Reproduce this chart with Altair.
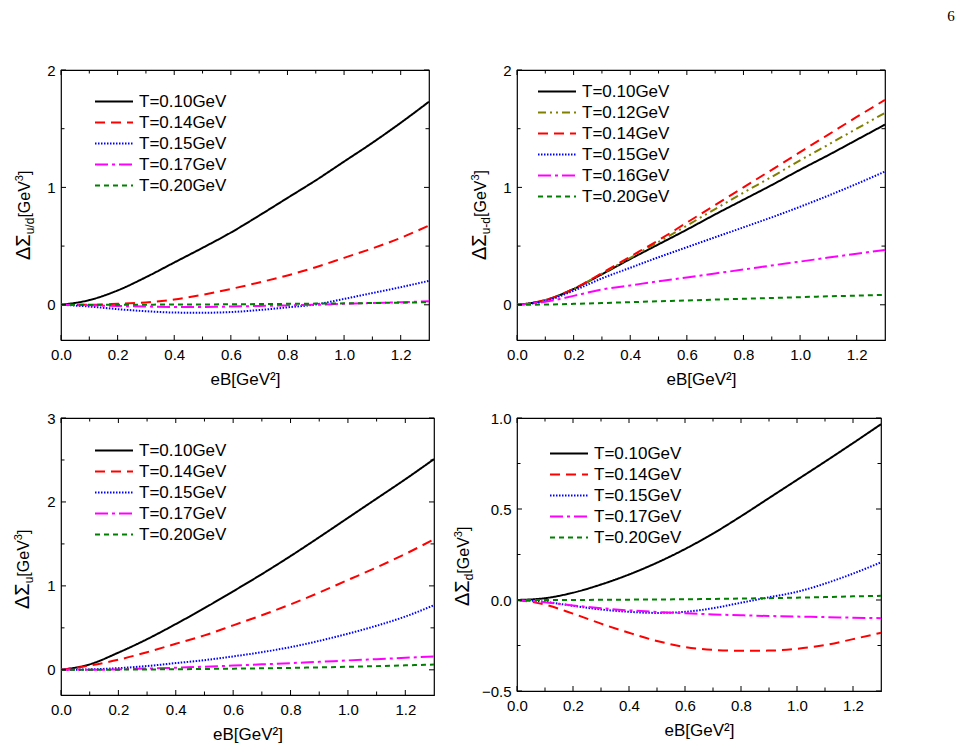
import altair as alt
import pandas as pd

FONT = "Liberation Sans"

# ---------------- data ----------------
eB = [0.0, 0.1, 0.2, 0.3, 0.4, 0.5, 0.6, 0.7, 0.8, 0.9, 1.0, 1.1, 1.2, 1.3]

# panel (a): Delta Sigma_{u/d}
a_T010 = [0, 0.04, 0.122, 0.235, 0.36, 0.485, 0.615, 0.76, 0.91, 1.06, 1.22, 1.38, 1.55, 1.73]
a_T014 = [0, 0.0, 0.008, 0.02, 0.045, 0.085, 0.135, 0.19, 0.25, 0.32, 0.4, 0.48, 0.57, 0.675]
a_T015 = [0, -0.015, -0.037, -0.055, -0.066, -0.068, -0.062, -0.045, -0.022, 0.003, 0.05, 0.1, 0.15, 0.204]
a_T017 = [0, -0.005, -0.01, -0.015, -0.018, -0.018, -0.015, -0.01, -0.005, 0.0, 0.008, 0.015, 0.022, 0.03]
a_T020 = [0, 0.0, 0.0, 0.001, 0.002, 0.003, 0.004, 0.006, 0.008, 0.01, 0.012, 0.015, 0.018, 0.022]

# panel (b): Delta Sigma_{u-d}
b_T010 = [0, 0.04, 0.135, 0.26, 0.39, 0.515, 0.64, 0.77, 0.895, 1.02, 1.15, 1.275, 1.405, 1.535]
b_T012 = [0, 0.04, 0.135, 0.265, 0.40, 0.535, 0.675, 0.815, 0.955, 1.09, 1.23, 1.365, 1.5, 1.635]
b_T014 = [0, 0.04, 0.135, 0.27, 0.41, 0.55, 0.70, 0.85, 1.0, 1.15, 1.3, 1.45, 1.6, 1.745]
b_T015 = [0, 0.032, 0.12, 0.225, 0.315, 0.405, 0.49, 0.575, 0.66, 0.745, 0.835, 0.93, 1.03, 1.135]
b_T016 = [0, 0.025, 0.076, 0.13, 0.165, 0.2, 0.233, 0.267, 0.3, 0.335, 0.368, 0.402, 0.435, 0.467]
b_T020 = [0, 0.002, 0.008, 0.015, 0.022, 0.03, 0.037, 0.044, 0.051, 0.058, 0.065, 0.072, 0.078, 0.085]

# panel (c): Delta Sigma_u
c_T010 = [0, 0.065, 0.205, 0.365, 0.545, 0.735, 0.935, 1.14, 1.355, 1.58, 1.81, 2.04, 2.27, 2.51]
c_T014 = [0, 0.05, 0.12, 0.21, 0.31, 0.41, 0.53, 0.65, 0.78, 0.92, 1.07, 1.22, 1.38, 1.555]
c_T015 = [0, 0.005, 0.02, 0.045, 0.08, 0.115, 0.16, 0.21, 0.27, 0.345, 0.43, 0.525, 0.635, 0.77]
c_T017 = [0, 0.0, 0.005, 0.015, 0.025, 0.037, 0.05, 0.065, 0.08, 0.095, 0.112, 0.127, 0.143, 0.16]
c_T020 = [0, 0.0, 0.002, 0.004, 0.007, 0.01, 0.014, 0.018, 0.023, 0.029, 0.036, 0.044, 0.053, 0.063]

# panel (d): Delta Sigma_d
d_T010 = [0, 0.01, 0.04, 0.085, 0.14, 0.205, 0.28, 0.365, 0.46, 0.56, 0.66, 0.76, 0.862, 0.966]
d_T014 = [0, -0.025, -0.075, -0.13, -0.18, -0.225, -0.258, -0.274, -0.279, -0.278, -0.268, -0.248, -0.215, -0.18]
d_T015 = [0, -0.01, -0.032, -0.052, -0.065, -0.071, -0.065, -0.045, -0.015, 0.015, 0.045, 0.09, 0.145, 0.207]
d_T017 = [0, -0.012, -0.03, -0.045, -0.057, -0.066, -0.073, -0.079, -0.084, -0.088, -0.091, -0.094, -0.097, -0.1]
d_T020 = [0, 0.0, 0.0, 0.001, 0.002, 0.003, 0.004, 0.006, 0.008, 0.01, 0.013, 0.016, 0.02, 0.023]

labels5 = ["T=0.10GeV", "T=0.14GeV", "T=0.15GeV", "T=0.17GeV", "T=0.20GeV"]
labels6 = ["T=0.10GeV", "T=0.12GeV", "T=0.14GeV", "T=0.15GeV", "T=0.16GeV", "T=0.20GeV"]

x_major = [0.0, 0.2, 0.4, 0.6, 0.8, 1.0, 1.2]
x_minor = [0.1, 0.3, 0.5, 0.7, 0.9, 1.1]

# ---------------- styles ----------------
STYLE = {
    "T=0.10GeV": ("#000000", [1, 0]),
    "T=0.12GeV": ("#808000", [8, 4, 2, 4, 2, 4]),
    "T=0.14GeV": ("#FF0000", [10, 6]),
    "T=0.15GeV": ("#0000FF", [1.5, 1.5]),
    "T=0.16GeV": ("#FF00FF", [13, 4, 3, 4]),
    "T=0.17GeV": ("#FF00FF", [13, 4, 3, 4]),
    "T=0.20GeV": ("#008000", [5, 4]),
}

CW = {"Δ": 0.667, "Σ": 0.618, "u": 0.556, "/": 0.278, "d": 0.556, "-": 0.333,
      "[": 0.278, "G": 0.778, "e": 0.556, "V": 0.667, "]": 0.278, "3": 0.556}


def tw(s, size):
    return sum(CW.get(ch, 0.556) for ch in s) * size


ONE = pd.DataFrame({"k": [0]})


def ytitle(sub, xb, y0):
    pieces = [("ΔΣ", 20, 0), (sub, 12, 4), ("[GeV", 16, 0), ("3", 11, -7), ("]", 16, 0)]
    out = []
    off = 0.0
    for txt, size, shift in pieces:
        out.append(
            alt.Chart(ONE).mark_text(text=txt, angle=270, align="left", baseline="alphabetic",
                                     fontSize=size, font=FONT, color="black")
            .encode(x=alt.value(xb + shift), y=alt.value(y0 - off))
        )
        off += tw(txt, size)
    return out


def panel(series, labels, ydom, ymaj, ymin, yfmt, sub, W, H, lx, ly, tx, ty, extra=None):
    rows = []
    for lab, vals in zip(labels, series):
        for x, v in zip(eB, vals):
            rows.append({"eB": x, "v": v, "T": lab})
    df = pd.DataFrame(rows)
    xs = alt.Scale(domain=[0, 1.3], nice=False, zero=False)
    ys = alt.Scale(domain=ydom, nice=False, zero=False)
    leg = alt.Legend(orient="none", legendX=lx, legendY=ly, symbolType="stroke",
                     symbolSize=1444, symbolStrokeWidth=2, labelFontSize=17, labelFont=FONT,
                     labelColor="black", clipHeight=21, rowPadding=0, labelOffset=5,
                     padding=0, title=None)
    lines = alt.Chart(df).mark_line(strokeWidth=2, interpolate="monotone", clip=True).encode(
        x=alt.X("eB:Q", scale=xs, axis=alt.Axis(values=x_major, format=".1f", title="eB[GeV²]",
                                                ticks=False, domain=False, grid=False,
                                                labelFontSize=15, labelFont=FONT, labelColor="black",
                                                labelPadding=7, labelFlush=False,
                                                titleFont=FONT, titleFontSize=17,
                                                titleFontWeight="normal", titleColor="black",
                                                titlePadding=9)),
        y=alt.Y("v:Q", scale=ys, axis=alt.Axis(values=ymaj, format=yfmt, title=None,
                                               ticks=False, domain=False, grid=False,
                                               labelFontSize=15, labelFont=FONT, labelColor="black",
                                               labelPadding=6, labelFlush=False)),
        color=alt.Color("T:N", scale=alt.Scale(domain=labels, range=[STYLE[l][0] for l in labels]),
                        legend=leg),
        strokeDash=alt.StrokeDash("T:N", scale=alt.Scale(domain=labels, range=[STYLE[l][1] for l in labels]),
                                  legend=leg),
    )
    layers = [lines]
    # inward ticks (major 5px, minor 3.5px) on all four sides
    for vals, L in ((x_major, 5), (x_minor, 3.5)):
        tdf = pd.DataFrame({"eB": vals})
        layers.append(alt.Chart(tdf).mark_rule(color="black", strokeWidth=1).encode(
            x=alt.X("eB:Q", scale=xs), y=alt.value(H), y2=alt.value(H - L)))
        layers.append(alt.Chart(tdf).mark_rule(color="black", strokeWidth=1).encode(
            x=alt.X("eB:Q", scale=xs), y=alt.value(0), y2=alt.value(L)))
    for vals, L in ((ymaj, 5), (ymin, 3.5)):
        tdf = pd.DataFrame({"v": vals})
        layers.append(alt.Chart(tdf).mark_rule(color="black", strokeWidth=1).encode(
            y=alt.Y("v:Q", scale=ys), x=alt.value(0), x2=alt.value(L)))
        layers.append(alt.Chart(tdf).mark_rule(color="black", strokeWidth=1).encode(
            y=alt.Y("v:Q", scale=ys), x=alt.value(W), x2=alt.value(W - L)))
    layers += ytitle(sub, tx, ty)
    if extra is not None:
        layers.append(extra)
    return alt.layer(*layers).properties(width=W, height=H)


page_no = alt.Chart(ONE).mark_text(text="6", font="Liberation Serif", fontSize=15, color="black",
                                   align="center", baseline="middle").encode(
    x=alt.value(434), y=alt.value(-54))

p1 = panel([a_T010, a_T014, a_T015, a_T017, a_T020], labels5, [-0.3, 2], [0, 1, 2], [0.5, 1.5], "d",
           "u/d", 368, 270, 33, 21, -31, 190)
p2 = panel([b_T010, b_T012, b_T014, b_T015, b_T016, b_T020], labels6, [-0.3, 2], [0, 1, 2], [0.5, 1.5], "d",
           "u-d", 368, 270, 20, 11, -31, 190, extra=page_no)
p3 = panel([c_T010, c_T014, c_T015, c_T017, c_T020], labels5, [-0.3, 3], [0, 1, 2, 3], [0.5, 1.5, 2.5], "d",
           "u", 373, 277, 33, 22, -32, 191)
p4 = panel([d_T010, d_T014, d_T015, d_T017, d_T020], labels5, [-0.5, 1.0], [-0.5, 0.0, 0.5, 1.0],
           [-0.25, 0.25, 0.75], ".1f", "d", 364, 273, 32, 25, -48, 188)

chart = alt.concat(p1, p2, p3, p4, columns=2).properties(
    align="none", bounds="flush", spacing={"row": 78, "column": 83},
    padding={"left": 12, "top": 8, "right": 5, "bottom": 5},
).resolve_scale(
    x="independent", y="independent", color="independent", strokeDash="independent"
).resolve_legend(color="independent", strokeDash="independent").configure_view(
    stroke="black", strokeWidth=1.2)

chart.save("out.html", embed_options={"renderer": "svg", "actions": False})
